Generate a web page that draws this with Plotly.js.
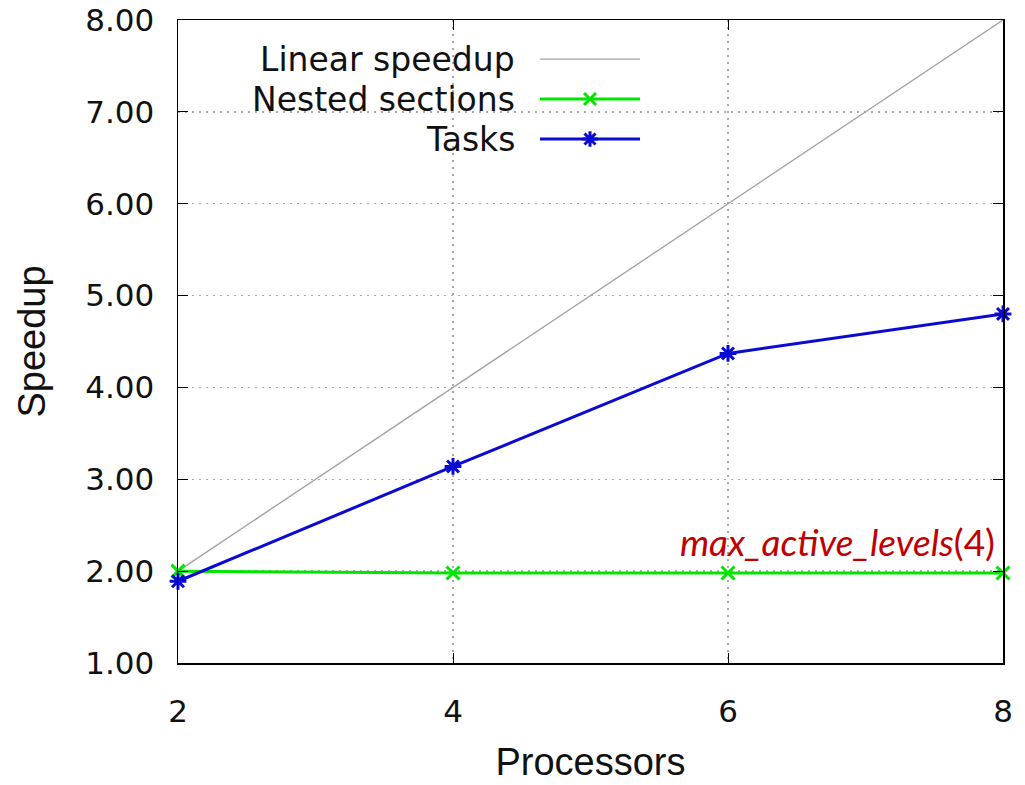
<!DOCTYPE html>
<html>
<head>
<meta charset="utf-8">
<script src="https://cdn.plot.ly/plotly-3.0.1.min.js"></script>
<style>html,body{margin:0;padding:0;background:#fff;}#chart{width:1025px;height:785px;}</style>
</head>
<body>
<div id="chart"></div>
<script>
// Data
const processors = [2, 4, 6, 8];
const linearSpeedup = [2, 4, 6, 8];
const nestedSections = [2.00, 1.98, 1.98, 1.98];
const tasks = [1.89, 3.14, 4.37, 4.80];
const seriesNames = ["Linear speedup", "Nested sections", "Tasks"];
const yTicks = [1, 2, 3, 4, 5, 6, 7, 8];
const xTicks = [2, 4, 6, 8];

const gray = "#a0a0a0", green = "#00e600", blue = "#0a0ad2";
const colors = [gray, green, blue];
const symbols = [null, "x-thin-open", "asterisk-open"];

const traces = [
  {x: processors, y: linearSpeedup, mode: "lines", line: {color: gray, width: 1.3}, cliponaxis: false, showlegend: false},
  {x: processors, y: nestedSections, mode: "lines+markers", line: {color: green, width: 3},
   marker: {symbol: symbols[1], size: 13, color: green, line: {color: green, width: 3}}, cliponaxis: false, showlegend: false},
  {x: processors, y: tasks, mode: "lines+markers", line: {color: blue, width: 3},
   marker: {symbol: symbols[2], size: 14, color: blue, line: {color: blue, width: 3}}, cliponaxis: false, showlegend: false}
];

// custom gnuplot-style legend (text left, sample right) on an overlay axis in fractions of the plot area
const legX0 = 0.4388, legX1 = 0.56, legXm = 0.4994;
const legY = [0.9393, 0.8771, 0.8149];
const annotations = [];
seriesNames.forEach((name, i) => {
  traces.push({x: [legX0, legX1], y: [legY[i], legY[i]], xaxis: "x2", yaxis: "y2", mode: "lines",
    line: {color: colors[i], width: i === 0 ? 1.3 : 3}, showlegend: false, hoverinfo: "skip"});
  if (i > 0) {
    traces.push({x: [legXm], y: [legY[i]], xaxis: "x2", yaxis: "y2", mode: "markers",
      marker: {symbol: symbols[i], size: i === 1 ? 12 : 13, color: colors[i], line: {color: colors[i], width: 3}},
      showlegend: false, hoverinfo: "skip"});
  }
  annotations.push({xref: "x2", yref: "y2", x: 0.411, y: legY[i], xanchor: "right", yanchor: "middle",
    text: name, showarrow: false, font: {family: "DejaVu Sans, sans-serif", size: 33, color: "#111"}});
});
annotations.push({xref: "paper", yref: "paper", x: 0.9925, y: 0.189, xanchor: "right", yanchor: "middle",
  text: "<i>max_active_levels</i>(4)", showarrow: false, font: {family: "Lato, sans-serif", size: 37, color: "#c00000"}});

const tickFont = {family: "DejaVu Sans, sans-serif", size: 31, color: "#111"};
const titleFont = {family: "Liberation Sans, Arial, sans-serif", size: 38, color: "#111"};

const layout = {
  width: 1025, height: 785,
  margin: {l: 178, r: 22, t: 20, b: 122},
  paper_bgcolor: "#fff", plot_bgcolor: "#fff",
  showlegend: false,
  xaxis: {range: [2, 8], tickvals: xTicks, ticktext: xTicks.map(String), ticks: "inside", ticklen: 10, tickcolor: "#000",
    showline: true, linecolor: "#000", linewidth: 1.5, mirror: "ticks", zeroline: false,
    showgrid: true, gridcolor: "#aaaaaa", griddash: "2px,5px", gridwidth: 1.5,
    tickfont: tickFont, ticklabelstandoff: 20,
    title: {text: "Processors", font: titleFont, standoff: 20}},
  yaxis: {range: [1, 8], tickvals: yTicks, tickformat: ".2f", ticks: "inside", ticklen: 10, tickcolor: "#000",
    showline: true, linecolor: "#000", linewidth: 1.5, mirror: "ticks", zeroline: false,
    showgrid: true, gridcolor: "#aaaaaa", griddash: "2px,5px", gridwidth: 1.5,
    tickfont: tickFont, ticklabelstandoff: 16,
    title: {text: "Speedup", font: titleFont, standoff: 28}},
  xaxis2: {overlaying: "x", range: [0, 1], visible: false, fixedrange: true},
  yaxis2: {overlaying: "y", range: [0, 1], visible: false, fixedrange: true},
  annotations: annotations
};

Plotly.newPlot("chart", traces, layout, {displayModeBar: false, staticPlot: true});
</script>
</body>
</html>
